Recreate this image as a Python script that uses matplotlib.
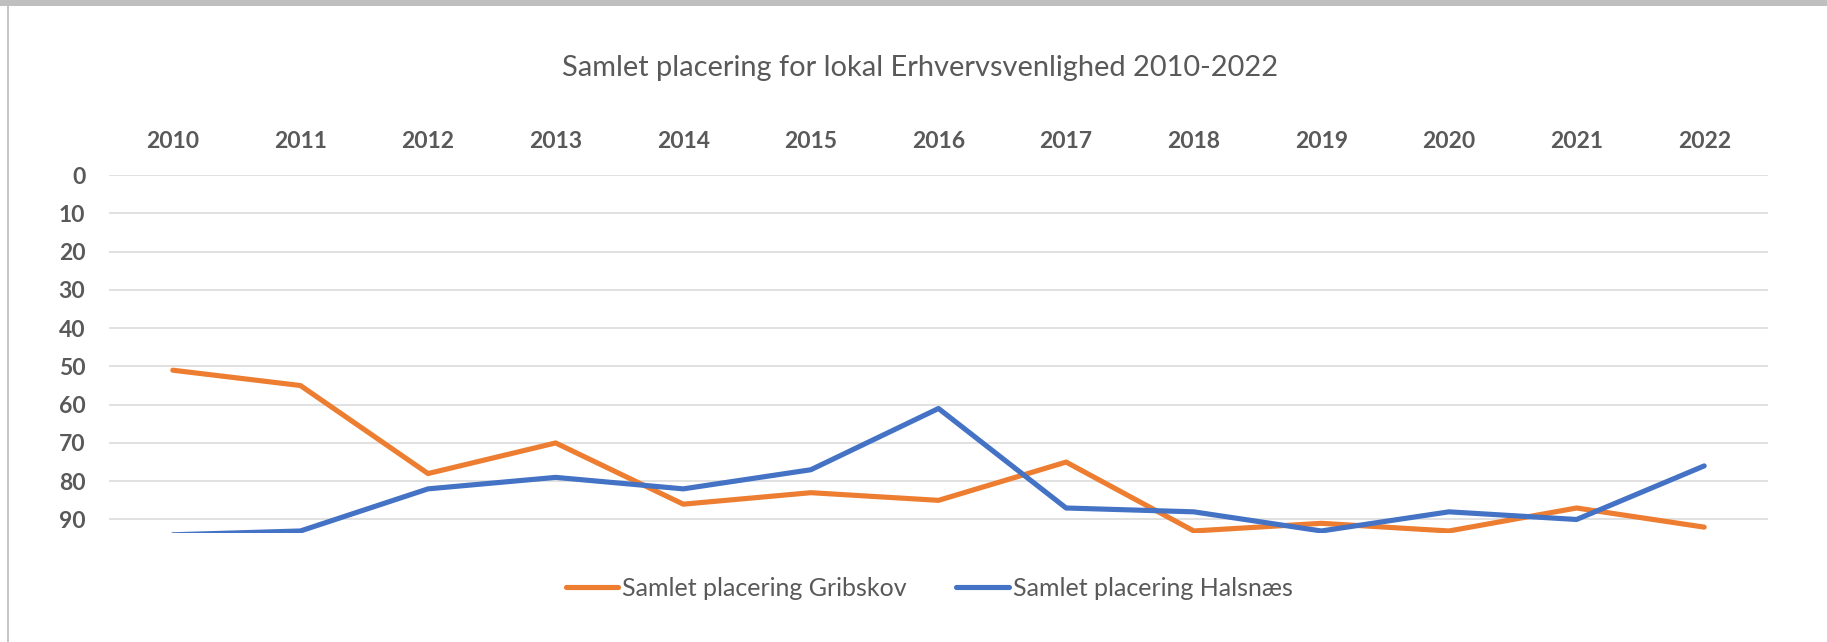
import matplotlib
matplotlib.use("Agg")
import matplotlib.pyplot as plt
from matplotlib.patches import Rectangle
from matplotlib.lines import Line2D

# data (rank, lower is better)
years = ["2010", "2011", "2012", "2013", "2014", "2015", "2016",
         "2017", "2018", "2019", "2020", "2021", "2022"]
gribskov = [51, 55, 78, 70, 86, 83, 85, 75, 93, 91, 93, 87, 92]
halsnaes = [94, 93, 82, 79, 82, 77, 61, 87, 88, 93, 88, 90, 76]
y_ticks = [0, 10, 20, 30, 40, 50, 60, 70, 80, 90]

ORANGE = "#ED7D31"
BLUE = "#4472C4"
TEXT = "#595959"
GRID = "#D9D9D9"

plt.rcParams["font.family"] = ["Lato", "DejaVu Sans"]

W, H = 1827, 642
fig = plt.figure(figsize=(W / 100, H / 100), dpi=100)
fig.patch.set_facecolor("white")

# frame bits of the surrounding document
fig.patches.append(Rectangle((0, 1 - 6 / H), 1, 6 / H, transform=fig.transFigure,
                             facecolor="#BFBFBF", edgecolor="none", zorder=5))
fig.lines.append(Line2D([7.5 / W, 7.5 / W], [0, 1 - 6 / H], transform=fig.transFigure,
                        color="#BFBFBF", linewidth=1.3))

ax = fig.add_axes([109 / W, 1 - 532.5 / H, (1768 - 109) / W, (532.5 - 175) / H])

x = list(range(len(years)))
ax.plot(x, gribskov, color=ORANGE, linewidth=3.7, solid_capstyle="round",
        solid_joinstyle="round", label="Samlet placering Gribskov", zorder=3)
ax.plot(x, halsnaes, color=BLUE, linewidth=3.7, solid_capstyle="round",
        solid_joinstyle="round", label="Samlet placering Halsnæs", zorder=3)

ax.set_xlim(-0.5, len(years) - 0.5)
ax.set_ylim(93.4, 0)

ax.xaxis.tick_top()
ax.set_xticks(x)
ax.set_xticklabels(years, fontsize=16.5, fontweight="bold", color=TEXT)
ax.set_yticks(y_ticks)
ax.set_yticklabels([str(v) for v in y_ticks], fontsize=16.5, fontweight="bold", color=TEXT)
ax.tick_params(axis="x", length=0, pad=16.5)
ax.tick_params(axis="y", length=0, pad=17)

ax.grid(axis="y", color=GRID, linewidth=1.1)
ax.set_axisbelow(True)
for s in ax.spines.values():
    s.set_visible(False)

fig.text(920 / W, 1 - 68 / H, "Samlet placering for lokal Erhvervsvenlighed 2010-2022",
         ha="center", va="center", fontsize=20.9, color=TEXT)

leg = fig.legend(loc="center", bbox_to_anchor=(929 / W, 1 - 588 / H), ncol=2,
                 frameon=False, fontsize=18, handlelength=2.1, handletextpad=0.15,
                 columnspacing=2.0)
for t in leg.get_texts():
    t.set_color(TEXT)

fig.savefig("out.png", dpi=100, facecolor="white")
